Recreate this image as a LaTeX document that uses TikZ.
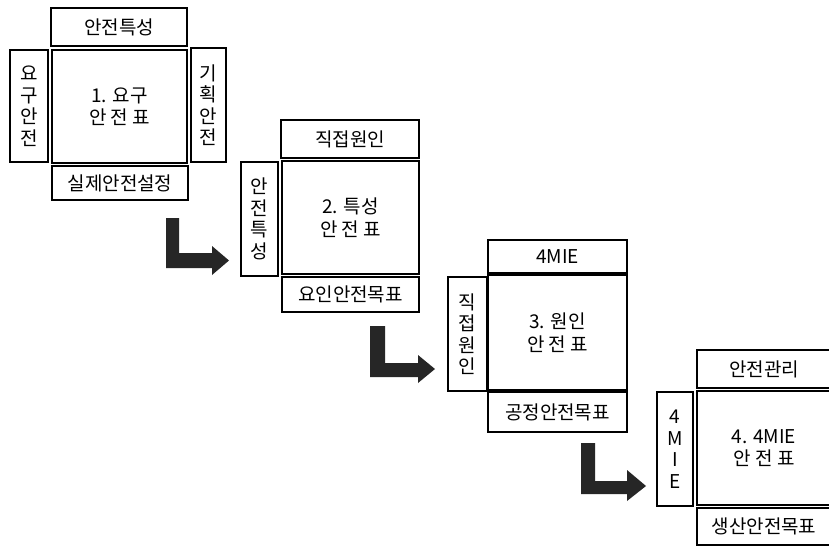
\documentclass[tikz,border=0pt]{standalone}
\usepackage{fontspec}
\setmainfont{Noto Sans CJK KR}
\tikzset{
  lbl/.style={draw=black, line width=1.3pt, inner sep=0pt, font=\fontsize{19}{21.5}\selectfont, align=center},
  arr/.style={fill=black!85, draw=none}
}
\newcommand{\bx}[6]{%
  \node[lbl, minimum width={(#4-#2)*1pt}, minimum height={(#5-#3)*1pt}] (#1) at ({(#2+#4)/2},{(#3+#5)/2}) {#6};}
\begin{document}
\begin{tikzpicture}[x=1pt,y=-1pt]
\clip (0,0) rectangle (829,546);
\fill[white] (0,0) rectangle (829,546);
% group 1
\bx{t1}{51}{8}{187}{46}{안전특성}
\bx{l1}{10}{50}{48}{162}{요\\구\\안\\전}
\bx{m1}{52}{50}{187}{163}{1. 요구\\[1pt]안 전 표}
\bx{r1}{191}{48}{226}{162}{기\\획\\안\\전}
\bx{b1}{52}{166}{188}{200}{실제안전설정}
% group 2
\bx{t2}{281}{120}{419}{158}{직접원인}
\bx{l2}{241}{162}{278}{276}{안\\전\\특\\성}
\bx{m2}{282}{161}{419}{274}{2. 특성\\[1pt]안 전 표}
\bx{b2}{282}{277}{419}{312}{요인안전목표}
% group 3
\bx{t3}{488}{240}{627}{273}{4MIE}
\bx{l3}{448}{277}{487}{391}{직\\접\\원\\인}
\bx{m3}{488}{275}{627}{390}{3. 원인\\[1pt]안 전 표}
\bx{b3}{488}{392}{627}{432}{공정안전목표}
% group 4
\bx{t4}{697}{350}{831}{388}{안전관리}
\bx{l4}{657}{392}{693}{506}{4\\M\\I\\E}
\bx{m4}{697}{391}{831}{505}{4. 4MIE\\[1pt]안 전 표}
\bx{b4}{697}{508}{831}{545}{생산안전목표}
% arrows
\fill[arr] (166,218) -- (179,218) -- (179,253) -- (212,253) -- (212,246) -- (229,260.5) -- (212,275) -- (212,268) -- (166,268) -- cycle;
\fill[arr] (370,326) -- (385,326) -- (385,363) -- (418,363) -- (418,355) -- (435,369) -- (418,383) -- (418,377) -- (370,377) -- cycle;
\fill[arr] (581,443) -- (595,443) -- (595,481) -- (627,481) -- (627,470) -- (646,486) -- (627,501) -- (627,494) -- (581,494) -- cycle;
\end{tikzpicture}
\end{document}
